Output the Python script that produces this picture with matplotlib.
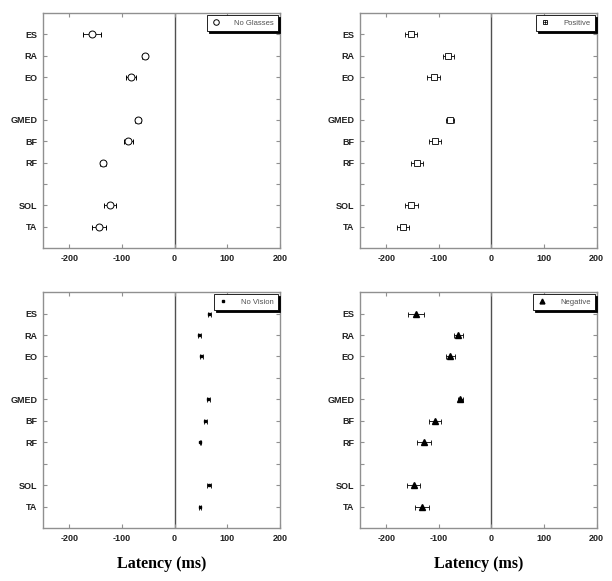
import numpy as np
import matplotlib.pyplot as plt
from matplotlib.lines import Line2D

# muscle rows, top to bottom (blank rows separate the groups)
muscles = ['ES', 'RA', 'EO', '', 'GMED', 'BF', 'RF', '', 'SOL', 'TA']
used = ['ES', 'RA', 'EO', 'GMED', 'BF', 'RF', 'SOL', 'TA']

# latency means and error (ms)
no_glasses = [-157, -57, -83, -69, -88, -136, -123, -143]
no_glasses_err = [17, 4, 10, 6, 9, 5, 12, 13]

positive = [-153, -82, -110, -79, -107, -141, -152, -168]
positive_err = [12, 10, 13, 7, 11, 11, 13, 11]

no_vision = [66, 47, 51, 64, 58, 49, 66, 49]
no_vision_err = [3, 3, 3, 3, 3, 1, 4, 2]

negative = [-143, -63, -78, -59, -107, -128, -148, -132]
negative_err = [15, 9, 9, 5, 11, 13, 13, 13]

xticks = [-200, -100, 0, 100, 200]

plt.rcParams['font.family'] = ['Liberation Sans', 'DejaVu Sans']

ypos = {m: len(muscles) - i for i, m in enumerate(muscles) if m}
y = [ypos[m] for m in used]


def setup(ax, bottom=False):
    ax.set_xlim(-250, 200)
    ax.set_ylim(0, 11)
    ax.axvline(0, color='#505050', lw=1.0, zorder=1)
    ax.set_xticks(xticks)
    ax.set_xticklabels([str(t) for t in xticks], fontsize=6.5, fontweight='bold',
                       color='#202020')
    ax.set_yticks(range(len(muscles), 0, -1))
    ax.set_yticklabels(muscles, fontsize=6.5, fontweight='bold', color='#202020')
    ax.tick_params(direction='in', top=True, right=True, length=3,
                   color='#909090', width=0.8, pad=4)
    for s in ax.spines.values():
        s.set_color('#909090')
        s.set_linewidth(1.0)
    if bottom:
        ax.set_xlabel('Latency (ms)', family='Liberation Serif', fontweight='bold',
                      fontsize=11.5, labelpad=10)


def add_legend(ax, handles, label):
    leg = ax.legend([handles], [label], loc='upper right', fontsize=5.5,
                    handlelength=1.2, handletextpad=1.8, borderaxespad=0.2,
                    fancybox=False, shadow={'color': 'k', 'alpha': 1, 'ox': 1.5, 'oy': -1.5},
                    edgecolor='k', borderpad=0.6, labelcolor='#505050',
                    framealpha=1)
    leg.get_frame().set_linewidth(0.6)


fig = plt.figure(figsize=(6.12, 5.81), dpi=100)
ax1 = fig.add_axes([0.0703, 0.573, 0.387, 0.4045])
ax2 = fig.add_axes([0.588, 0.573, 0.387, 0.4045])
ax3 = fig.add_axes([0.0703, 0.0912, 0.387, 0.406])
ax4 = fig.add_axes([0.588, 0.0912, 0.387, 0.406])

eb = dict(ls='none', ecolor='k', elinewidth=0.6, capsize=1.8, capthick=0.6)

# No Glasses
ax1.errorbar(no_glasses, y, xerr=no_glasses_err, fmt='o', ms=5,
             mfc='white', mec='k', mew=0.7, **eb)
setup(ax1)
add_legend(ax1, Line2D([], [], ls='none', marker='o', ms=4, mfc='white',
                       mec='k', mew=0.7), 'No Glasses')

# Positive
ax2.errorbar(positive, y, xerr=positive_err, fmt='s', ms=4,
             mfc='white', mec='k', mew=0.6, **eb)
ax2.plot(positive, y, ls='none', marker='+', ms=4, mew=0.5, color='k')
setup(ax2)
add_legend(ax2, (Line2D([], [], ls='none', marker='s', ms=3.5, mfc='white',
                        mec='k', mew=0.6),
                 Line2D([], [], ls='none', marker='+', ms=3.5, mew=0.5, color='k')),
           'Positive')

# No Vision
ax3.errorbar(no_vision, y, xerr=no_vision_err, fmt='s', ms=1.8,
             mfc='k', mec='k', **eb)
setup(ax3, bottom=True)
add_legend(ax3, Line2D([], [], ls='none', marker='s', ms=1.8, color='k'),
           'No Vision')

# Negative
ax4.errorbar(negative, y, xerr=negative_err, fmt='^', ms=4,
             mfc='k', mec='k', **eb)
setup(ax4, bottom=True)
add_legend(ax4, Line2D([], [], ls='none', marker='^', ms=3.5, color='k'),
           'Negative')

plt.savefig('out.png', dpi=100)
